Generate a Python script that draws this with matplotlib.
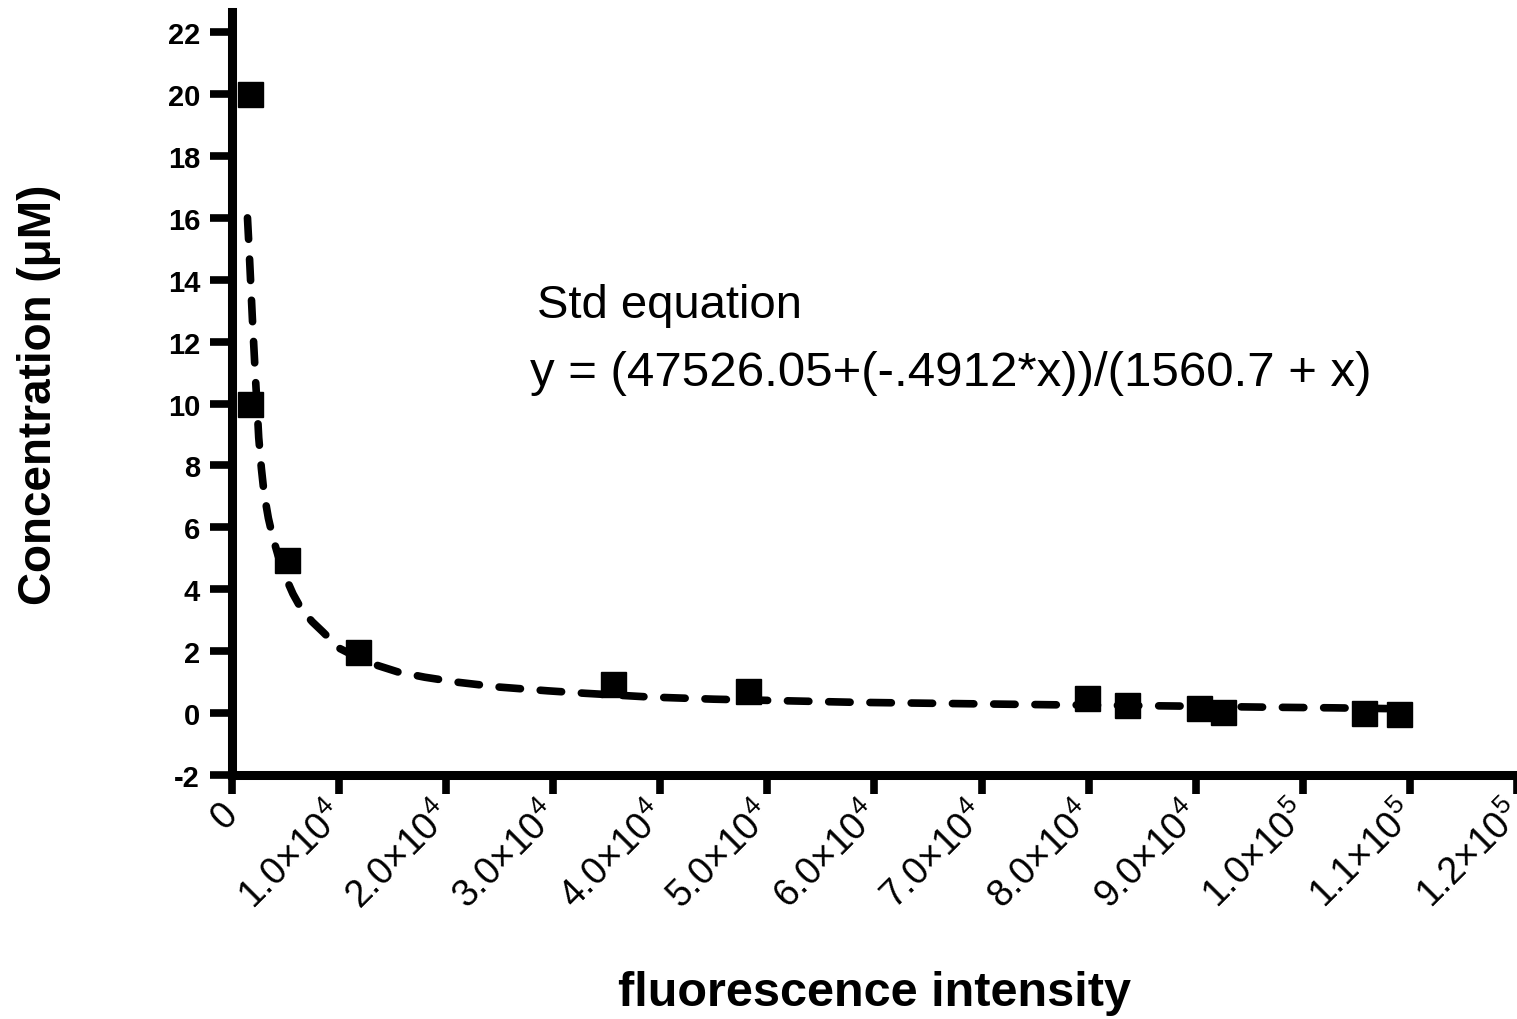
import matplotlib
matplotlib.use('Agg')
import matplotlib.pyplot as plt

plt.rcParams['font.family'] = ['Liberation Sans', 'DejaVu Sans']
plt.rcParams['mathtext.fontset'] = 'custom'
plt.rcParams['mathtext.rm'] = 'Liberation Sans'
plt.rcParams['mathtext.it'] = 'Liberation Sans:italic'
plt.rcParams['mathtext.bf'] = 'Liberation Sans:bold'

# measured standards (squares)
fluor = [1700, 1650, 5150, 11800, 35600, 48200, 79800, 83600, 90300, 92500, 105700, 109000]
conc = [20.0, 10.0, 4.95, 1.96, 0.95, 0.72, 0.48, 0.27, 0.16, 0.04, 0.0, -0.04]

# fitted curve (dashed)
fit_x = [1450, 1600, 1750, 1900, 2050, 2200, 2350, 2500, 2750, 3000, 3400, 3800,
         4300, 5000, 5700, 6500, 7500, 8500, 10000, 12500, 15500, 18000, 21000,
         25000, 29500, 33000, 39000, 45000, 51500, 58000, 67000, 76500, 88000,
         97000, 103000, 109000]
fit_y = [16.0, 15.0, 13.9, 12.8, 11.8, 10.8, 9.9, 8.9, 7.9, 7.1, 6.3, 5.7,
         5.1, 4.4, 3.85, 3.35, 2.95, 2.62, 2.1, 1.66, 1.33, 1.16, 1.0,
         0.84, 0.72, 0.64, 0.52, 0.45, 0.40, 0.35, 0.31, 0.27, 0.23,
         0.19, 0.17, 0.14]

x_ticks = [0, 10000, 20000, 30000, 40000, 50000, 60000, 70000, 80000, 90000, 100000, 110000, 120000]
x_ticklabels = ['0', '1.0×10$^{4}$', '2.0×10$^{4}$', '3.0×10$^{4}$', '4.0×10$^{4}$',
                '5.0×10$^{4}$', '6.0×10$^{4}$', '7.0×10$^{4}$', '8.0×10$^{4}$',
                '9.0×10$^{4}$', '1.0×10$^{5}$', '1.1×10$^{5}$', '1.2×10$^{5}$']
y_ticks = [-2, 0, 2, 4, 6, 8, 10, 12, 14, 16, 18, 20, 22]

fig = plt.figure(figsize=(15.17, 10.2), dpi=100)
ax = fig.add_axes([0.1529, 0.2392, 0.8471, 0.748])

line, = ax.plot(fit_x, fit_y, color='black', lw=5.5, dash_capstyle='round', zorder=2)
line.set_dashes((2.8, 2.6))
ax.plot(fluor, conc, 's', color='black', markersize=18, zorder=3, clip_on=False)

ax.set_xlim(0, 120000)
ax.set_ylim(-2, 22.65)

for side in ['top', 'right']:
    ax.spines[side].set_visible(False)
for side in ['left', 'bottom']:
    ax.spines[side].set_linewidth(6.5)

ax.set_yticks(y_ticks)
ax.set_yticklabels([str(v) for v in y_ticks], fontsize=21, fontweight='bold')
ax.set_xticks(x_ticks)
ax.set_xticklabels(x_ticklabels, fontsize=27, rotation=45, ha='right', va='center',
                   rotation_mode='anchor')
ax.tick_params(axis='y', length=16, width=5.5, pad=7)
ax.tick_params(axis='x', length=14, width=5.5, pad=10)

ax.set_ylabel('Concentration (μM)', fontsize=33, fontweight='bold')
ax.yaxis.set_label_coords(-0.133, 0.5)
ax.set_xlabel('fluorescence intensity', fontsize=35, fontweight='bold')
ax.xaxis.set_label_coords(0.5, -0.255)

ax.text(28500, 12.8, 'Std equation', fontsize=34)
ax.text(27800, 10.6, 'y = (47526.05+(-.4912*x))/(1560.7 + x)', fontsize=35.5)

fig.savefig('out.png', dpi=100)
